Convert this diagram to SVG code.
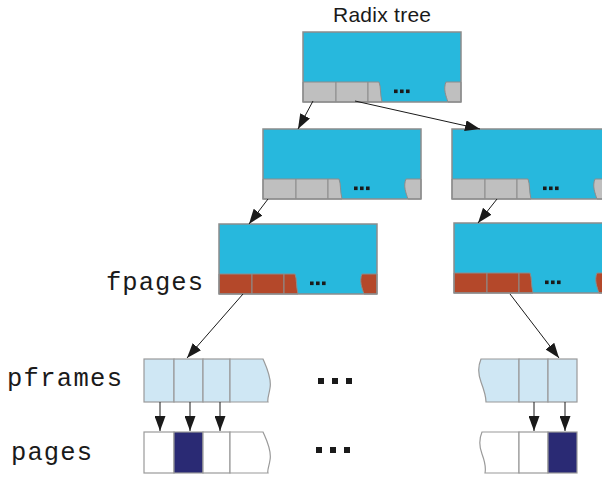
<svg xmlns="http://www.w3.org/2000/svg" xmlns:xlink="http://www.w3.org/1999/xlink" width="602" height="477" viewBox="0 0 602 477">
<style>
.bg{fill:#ffffff}
.node{fill:#27b8dd}
.frame{fill:none;stroke:#8c8c8c;stroke-width:1.5}
.grey{fill:#bfbfbf;stroke:#8c8c8c;stroke-width:1}
.brown{fill:#b4482a;stroke:#8c8c8c;stroke-width:1}
.cellp{fill:#cfe7f4;stroke:#9a9a9a;stroke-width:1.2}
.cellw{fill:#ffffff;stroke:#9a9a9a;stroke-width:1.2}
.celld{fill:#2a2a74;stroke:#9a9a9a;stroke-width:1.2}
.dot{fill:#1a1a1a}
.conn{stroke:#1a1a1a;stroke-width:1;fill:none;marker-end:url(#ah)}
.title{font-family:"Liberation Sans",Arial,sans-serif;font-size:21px;fill:#1a1a1a}
.mono{font-family:"Liberation Mono","Courier New",monospace;font-size:25.5px;fill:#1a1a1a}
</style>
<defs>
<marker id="ah" markerUnits="userSpaceOnUse" markerWidth="15" markerHeight="11" refX="15" refY="5.5" orient="auto">
<path d="M0,0 L15,5.5 L0,11 Z" fill="#1a1a1a"/>
</marker>
<g id="bar">
<path d="M0,50 H33 V70 H0 Z"/>
<path d="M33,50 H65 V70 H33 Z"/>
<path d="M65,50 H76 C78,55 77,62 79,70 H65 Z"/>
<path d="M143,50 H158 V70 H145 C143,64 140,57 143,50 Z"/>
</g>
<g id="sdots">
<rect x="91" y="57.5" width="3.6" height="3.6"/>
<rect x="97" y="57.5" width="3.6" height="3.6"/>
<rect x="103" y="57.5" width="3.6" height="3.6"/>
</g>
</defs>
<rect class="bg" x="0" y="0" width="602" height="477"/>

<g id="label-radix">
<text class="title" x="333" y="22" textLength="98">Radix tree</text>
</g>

<g id="node-root" transform="translate(303,32)">
<rect class="node" x="0" y="0" width="158" height="70"/>
<use xlink:href="#bar" href="#bar" class="grey"/>
<use xlink:href="#sdots" href="#sdots" class="dot"/>
<rect class="frame" x="0" y="0" width="158" height="70"/>
</g>

<g id="node-l2-left" transform="translate(263,129)">
<rect class="node" x="0" y="0" width="158" height="70"/>
<use xlink:href="#bar" href="#bar" class="grey"/>
<use xlink:href="#sdots" href="#sdots" class="dot"/>
<rect class="frame" x="0" y="0" width="158" height="70"/>
</g>

<g id="node-l2-right" transform="translate(452,129)">
<rect class="node" x="0" y="0" width="158" height="70"/>
<use xlink:href="#bar" href="#bar" class="grey"/>
<use xlink:href="#sdots" href="#sdots" class="dot"/>
<rect class="frame" x="0" y="0" width="158" height="70"/>
</g>

<g id="node-l3-left" transform="translate(219,224)">
<rect class="node" x="0" y="0" width="158" height="70"/>
<use xlink:href="#bar" href="#bar" class="brown"/>
<use xlink:href="#sdots" href="#sdots" class="dot"/>
<rect class="frame" x="0" y="0" width="158" height="70"/>
</g>

<g id="node-l3-right" transform="translate(454,223)">
<rect class="node" x="0" y="0" width="158" height="70"/>
<use xlink:href="#bar" href="#bar" class="brown"/>
<use xlink:href="#sdots" href="#sdots" class="dot"/>
<rect class="frame" x="0" y="0" width="158" height="70"/>
</g>

<g id="label-fpages">
<text class="mono" x="106" y="290" textLength="97">fpages</text>
</g>
<g id="label-pframes">
<text class="mono" x="7" y="386" textLength="115">pframes</text>
</g>
<g id="label-pages">
<text class="mono" x="11" y="460" textLength="81">pages</text>
</g>

<g id="pframes-left">
<rect class="cellp" x="144" y="359" width="30" height="43"/>
<rect class="cellp" x="174" y="359" width="29" height="43"/>
<rect class="cellp" x="203" y="359" width="27" height="43"/>
<path class="cellp" d="M230,359 H263 C266,366 272,378 270,388 C269,395 267,399 268,402 H230 Z"/>
</g>

<g id="pages-left">
<rect class="cellw" x="144" y="432" width="30" height="41"/>
<rect class="celld" x="174" y="432" width="29" height="41"/>
<rect class="cellw" x="203" y="432" width="27" height="41"/>
<path class="cellw" d="M230,432 H263 C266,439 272,450 270,460 C269,467 267,470 268,473 H230 Z"/>
</g>

<g id="pframes-right">
<path class="cellp" d="M481,359 C478,366 478,374 481,382 C484,390 486,396 486,402 H519 V359 Z"/>
<rect class="cellp" x="519" y="359" width="29" height="43"/>
<rect class="cellp" x="548" y="359" width="29" height="43"/>
</g>

<g id="pages-right">
<path class="cellw" d="M482,432 C479,439 479,446 482,454 C485,462 486,468 485,473 H519 V432 Z"/>
<rect class="cellw" x="519" y="432" width="29" height="41"/>
<rect class="celld" x="548" y="432" width="29" height="41"/>
</g>

<g id="ellipsis-mid">
<rect class="dot" x="318" y="378" width="6" height="6"/>
<rect class="dot" x="332" y="378" width="6" height="6"/>
<rect class="dot" x="346" y="378" width="6" height="6"/>
</g>
<g id="ellipsis-bottom">
<rect class="dot" x="316" y="447" width="6" height="6"/>
<rect class="dot" x="330" y="447" width="6" height="6"/>
<rect class="dot" x="344" y="447" width="6" height="6"/>
</g>

<g id="connectors">
<line class="conn" x1="313" y1="101" x2="298" y2="129"/>
<line class="conn" x1="355" y1="101" x2="480" y2="129"/>
<line class="conn" x1="268" y1="199" x2="249" y2="224"/>
<line class="conn" x1="497" y1="199" x2="478" y2="223"/>
<line class="conn" x1="243" y1="294" x2="187" y2="358"/>
<line class="conn" x1="510" y1="294" x2="559" y2="358"/>
<line class="conn" x1="160" y1="402" x2="160" y2="431"/>
<line class="conn" x1="190" y1="402" x2="190" y2="431"/>
<line class="conn" x1="220" y1="402" x2="220" y2="431"/>
<line class="conn" x1="534" y1="402" x2="534" y2="431"/>
<line class="conn" x1="565" y1="402" x2="565" y2="431"/>
</g>
</svg>
